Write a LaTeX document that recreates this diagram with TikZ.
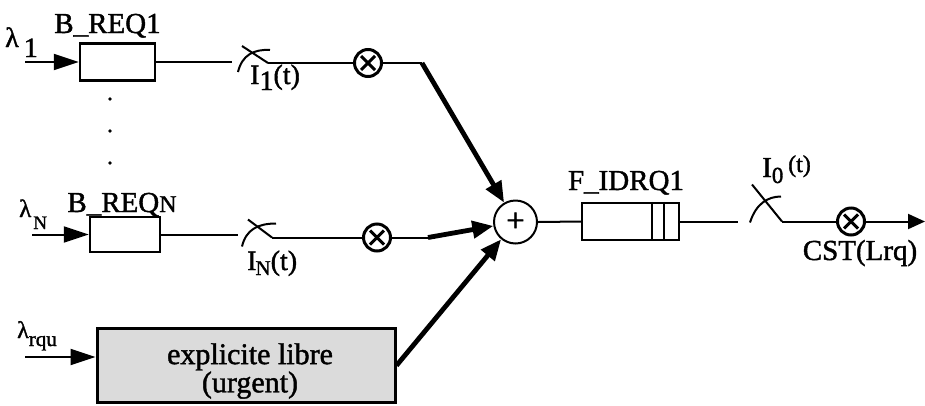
\documentclass[tikz,border=0pt]{standalone}
\usepackage{fontspec}
\setmainfont{Liberation Serif}[FakeBold=1.4]
\usetikzlibrary{arrows.meta}
\begin{document}
\begin{tikzpicture}[x=1pt,y=-1pt,
  lbl/.style={inner sep=0pt, font=\fontsize{29}{29}\selectfont},
  wire/.style={line width=2pt},
  feed/.style={line width=2pt, -{Triangle[length=25pt,width=16pt]}},
  heavy/.style={line width=4.8pt, -{Triangle[length=21pt,width=17pt]}},
  queue/.style={draw, line width=2.4pt, inner sep=0pt},
  mult/.style={circle, draw, line width=3pt, minimum size=27pt, inner sep=0pt,
    path picture={
      \draw[line width=3pt] ([shift={(-7pt,-7pt)}]path picture bounding box.center)
        -- ([shift={(7pt,7pt)}]path picture bounding box.center);
      \draw[line width=3pt] ([shift={(-7pt,7pt)}]path picture bounding box.center)
        -- ([shift={(7pt,-7pt)}]path picture bounding box.center);}},
  adder/.style={circle, draw, line width=2pt, minimum size=43pt, inner sep=0pt,
    font=\fontsize{33}{33}\selectfont},
  dot/.style={circle, fill, inner sep=0pt, minimum size=3.6pt}
]
\path[use as bounding box] (0,0) rectangle (925,405);

% ---- first request queue ----
\node[queue, minimum width=75pt, minimum height=37pt] (bq1) at (117.5,62) {};
\node[lbl, anchor=base] (bq1t) at (107.5,33) {B\_REQ1};
\node[lbl, anchor=base west, font=\fontsize{28}{28}\selectfont] (lam1) at (5,47) {λ\kern5pt\raisebox{-10pt}{1}};
\coordinate (in1) at (25,62);
\draw[feed] (in1) -- (bq1.west);

\coordinate (s1l) at (232,62);
\coordinate (s1r) at (268,63);
\draw[wire] (bq1.east) -- (s1l);
\draw[wire] (s1r) -- ++(-26,-17);
\draw[wire] ([shift={(-30,9)}]s1r) .. controls ([shift={(-26,-8)}]s1r) and ([shift={(-14,-14)}]s1r) .. ([shift={(2,-13)}]s1r);
\node[lbl, anchor=base west, font=\fontsize{28}{28}\selectfont] (i1t) at (250,84) {I\raisebox{-6pt}{1}(t)};

\node[mult] (m1) at (368,63) {};
\draw[wire] (s1r) -- (m1.west);
\coordinate (c1) at (422,63);
\draw[wire] (m1.east) -- (c1);

% ---- dots between the queues ----
\node[dot] (d1) at (110,99) {};
\node[dot] (d2) at (110,131) {};
\node[dot] (d3) at (110,163) {};

% ---- N-th request queue ----
\node[queue, minimum width=70pt, minimum height=35pt] (bqN) at (125,234.5) {};
\node[lbl, anchor=base] (bqNt) at (122,212) {B\_REQ{\fontsize{24}{24}\selectfont N}};
\node[lbl, anchor=base west, font=\fontsize{25}{25}\selectfont] (lamN) at (19,217) {λ\kern2pt\raisebox{-12pt}{\fontsize{19}{19}\selectfont N}};
\coordinate (inN) at (32,234.5);
\draw[feed] (inN) -- (bqN.west);

\coordinate (sNl) at (238,234.5);
\coordinate (sNr) at (272,237.5);
\draw[wire] (bqN.east) -- (sNl);
\draw[wire] (sNr) -- ++(-24,-18);
\draw[wire] ([shift={(-30,9)}]sNr) .. controls ([shift={(-26,-8)}]sNr) and ([shift={(-14,-14)}]sNr) .. ([shift={(4,-14)}]sNr);
\node[lbl, anchor=base west, font=\fontsize{28}{28}\selectfont] (iNt) at (247,270) {I\kern-1pt\raisebox{-5pt}{\fontsize{21}{21}\selectfont N}(t)};

\node[mult] (mN) at (377,237.5) {};
\draw[wire] (sNr) -- (mN.west);
\coordinate (cN) at (428,237.5);
\draw[wire] (mN.east) -- (cN);

% ---- urgent source ----
\node[queue, line width=3pt, fill=black!14, minimum width=298pt, minimum height=74pt] (ub) at (246,365.5) {};
\node[lbl, align=center, font=\fontsize{30}{26}\selectfont] (ubt) at (250,371) {explicite libre\\(urgent)};
\node[lbl, anchor=base west, font=\fontsize{24}{24}\selectfont] (lamU) at (17,338) {λ\raisebox{-8pt}{\fontsize{21}{21}\selectfont rqu}};
\coordinate (inU) at (25,357);
\draw[feed] (inU) -- (inU -| ub.west);

% ---- adder and common queue ----
\node[adder] (sum) at (515.5,222) {+};
\draw[heavy] (c1) -- (sum);
\draw[heavy] (cN) -- (sum);
\draw[heavy] (ub.east) -- (sum);

\node[queue, minimum width=97pt, minimum height=37pt] (fq) at (630.5,221.5) {};
\draw[wire] ([xshift=-28pt]fq.north east) -- ([xshift=-28pt]fq.south east);
\draw[wire] ([xshift=-16pt]fq.north east) -- ([xshift=-16pt]fq.south east);
\node[lbl, anchor=base] (fqt) at (626,190) {F\_IDRQ1};
\draw[wire] (sum.east) -- (fq.west);

% ---- output switch and multiplier ----
\coordinate (s0l) at (738,221.5);
\coordinate (s0r) at (782,221.5);
\draw[wire] (fq.east) -- (s0l);
\draw[wire] (s0r) -- ++(-30,-37);
\draw[wire] ([shift={(-32,1)}]s0r) .. controls ([shift={(-26,-18)}]s0r) and ([shift={(-14,-25)}]s0r) .. ([shift={(-1,-25)}]s0r);
\node[lbl, anchor=base west] (i0t) at (762,177) {I\raisebox{-6pt}{\fontsize{23}{23}\selectfont 0}\,\raisebox{5pt}{\fontsize{24}{24}\selectfont (t)}};

\node[mult] (m0) at (851,221.5) {};
\draw[wire] (s0r) -- (m0.west);
\coordinate (out) at (925,221.5);
\draw[wire, -{Triangle[length=17pt,width=15pt]}] (m0.east) -- (out);
\node[lbl, anchor=base] (cst) at (860,260) {CST(Lrq)};
\end{tikzpicture}
\end{document}
